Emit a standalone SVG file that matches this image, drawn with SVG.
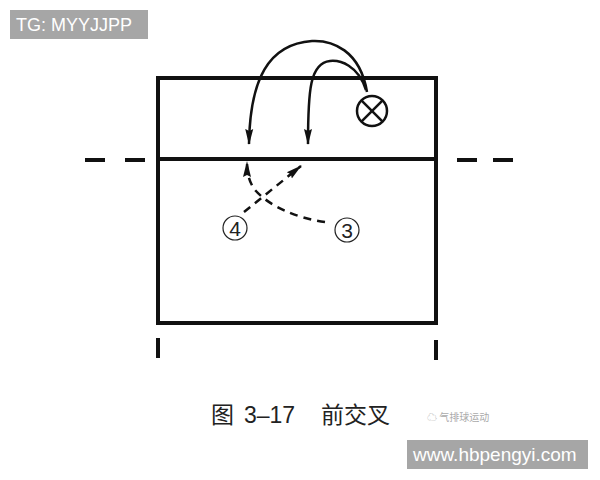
<svg xmlns="http://www.w3.org/2000/svg" width="600" height="480" viewBox="0 0 600 480">
<style>
.ln{stroke:#111;stroke-width:4;fill:none}
.cv{stroke:#111;stroke-width:2.5;fill:none}
.ds{stroke:#111;stroke-width:2.5;fill:none;stroke-dasharray:8 6}
.lab{font-family:"Liberation Sans",Arial,sans-serif;fill:#222}
</style>
<defs>
<marker id="ah" viewBox="0 0 16 10" refX="15" refY="5" markerWidth="16" markerHeight="10" markerUnits="userSpaceOnUse" orient="auto">
<path d="M0,1 L16,5 L0,9 L2,5 Z" fill="#111"/>
</marker>
</defs>
<rect width="600" height="480" fill="#fff"/>
<g id="court">
<rect x="158" y="78" width="278" height="245" class="ln"/>
<line x1="158" y1="159" x2="436" y2="159" class="ln"/>
<line x1="85" y1="160" x2="105" y2="160" class="ln"/>
<line x1="125" y1="160" x2="145" y2="160" class="ln"/>
<line x1="457" y1="160" x2="477" y2="160" class="ln"/>
<line x1="493" y1="160" x2="513" y2="160" class="ln"/>
<line x1="158" y1="338" x2="158" y2="358" class="ln"/>
<line x1="436" y1="340" x2="436" y2="360" class="ln"/>
</g>
<g id="ball">
<circle cx="372" cy="111" r="15" class="cv"/>
<line x1="361.4" y1="100.4" x2="382.6" y2="121.6" class="cv"/>
<line x1="382.6" y1="100.4" x2="361.4" y2="121.6" class="cv"/>
</g>
<g id="p4">
<circle cx="235" cy="228" r="12" fill="none" stroke="#222" stroke-width="1.2"/>
<text x="235" y="236" text-anchor="middle" font-size="21" class="lab">4</text>
</g>
<g id="p3">
<circle cx="347" cy="230" r="12" fill="none" stroke="#222" stroke-width="1.2"/>
<text x="347" y="238" text-anchor="middle" font-size="21" class="lab">3</text>
</g>
<g id="connectors">
<path d="M367,92 C360,50 332,40 312,41 C268,44 250,80 249,144" class="cv" marker-end="url(#ah)"/>
<path d="M366,90 C358,65 340,60 330,61 C310,63 308,90 308,144" class="cv" marker-end="url(#ah)"/>
<path d="M244,212 L301,166" class="ds" marker-end="url(#ah)"/>
<path d="M325,222 C295,218 268,205 255,190 C249,182 247,173 247,162" class="ds" marker-end="url(#ah)"/>
</g>
<g id="caption">
<text x="211" y="423" font-size="23" class="lab" style="font-family:'Noto Sans CJK SC',sans-serif">图</text>
<text x="244" y="423" font-size="23" class="lab">3–17</text>
<text x="321" y="423" font-size="23" class="lab" style="font-family:'Noto Sans CJK SC',sans-serif">前交叉</text>
</g>
<g id="watermarks">
<text x="427" y="421" font-size="10" fill="#aaa" style="font-family:'Noto Sans CJK SC',sans-serif">☁ 气排球运动</text>
<rect x="10" y="10" width="138" height="29" fill="#a6a6a6"/>
<text x="16" y="31" font-size="18" fill="#fff" style="font-family:'Liberation Sans',Arial,sans-serif">TG: MYYJJPP</text>
<rect x="407" y="440" width="181" height="29" fill="#a6a6a6"/>
<text x="413" y="461" font-size="19" fill="#fff" style="font-family:'Liberation Sans',Arial,sans-serif">www.hbpengyi.com</text>
</g>
</svg>
